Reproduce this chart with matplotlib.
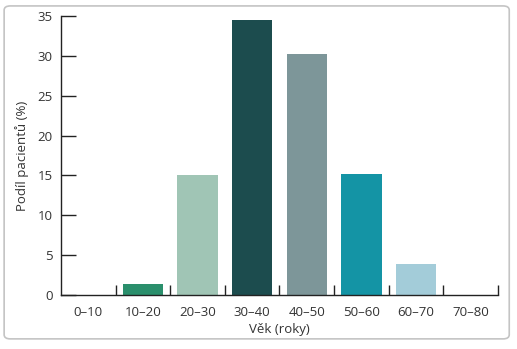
import matplotlib
matplotlib.use("Agg")
import matplotlib.pyplot as plt
import numpy as np
from matplotlib.patches import FancyBboxPatch

categories = ["0–10", "10–20", "20–30", "30–40", "40–50", "50–60", "60–70", "70–80"]
values = [0, 1.4, 15.0, 34.5, 30.2, 15.2, 3.9, 0]
colors = ["#2a8f6c", "#2a8f6c", "#a0c5b5", "#1c4c4e", "#7d9699", "#1494a5", "#a3ccd9", "#a3ccd9"]
yticks = [0, 5, 10, 15, 20, 25, 30, 35]

plt.rcParams["font.family"] = ["Open Sans", "DejaVu Sans"]

fig = plt.figure(figsize=(5.17, 3.49), dpi=100)
ax = fig.add_axes([0.118, 0.155, 0.845, 0.799])

# rounded frame around the whole figure
frame = FancyBboxPatch((0.008, 0.029), 0.977, 0.954, boxstyle="round,pad=0,rounding_size=0.012",
                       transform=fig.transFigure, facecolor="none", edgecolor="#c4c4c4",
                       linewidth=1.2, zorder=0)
fig.patches.append(frame)

x = np.arange(len(categories))
ax.bar(x, values, width=0.74, color=colors, linewidth=0, zorder=2)

ax.set_xlim(-0.5, len(categories) - 0.5)
ax.set_ylim(0, 35)
ax.set_yticks(yticks)
ax.set_xticks(x)
ax.set_xticklabels(categories)
ax.set_xticks(np.arange(len(categories)) + 0.5, minor=True)

for s in ["top", "right"]:
    ax.spines[s].set_visible(False)
for s in ["left", "bottom"]:
    ax.spines[s].set_color("#222222")
    ax.spines[s].set_linewidth(1.0)

ax.tick_params(axis="y", direction="in", length=11, width=1, color="#222222",
               labelsize=9.5, labelcolor="#333333", pad=6)
ax.tick_params(axis="x", which="major", length=0, labelsize=9.5, labelcolor="#333333", pad=8)
ax.tick_params(axis="x", which="minor", direction="in", length=7, width=1, color="#222222")

ax.set_xlabel("Věk (roky)", fontsize=9.5, color="#333333", labelpad=3)
ax.set_ylabel("Podíl pacientů (%)", fontsize=9.5, color="#333333", labelpad=6)

fig.savefig("out.png", dpi=100)
